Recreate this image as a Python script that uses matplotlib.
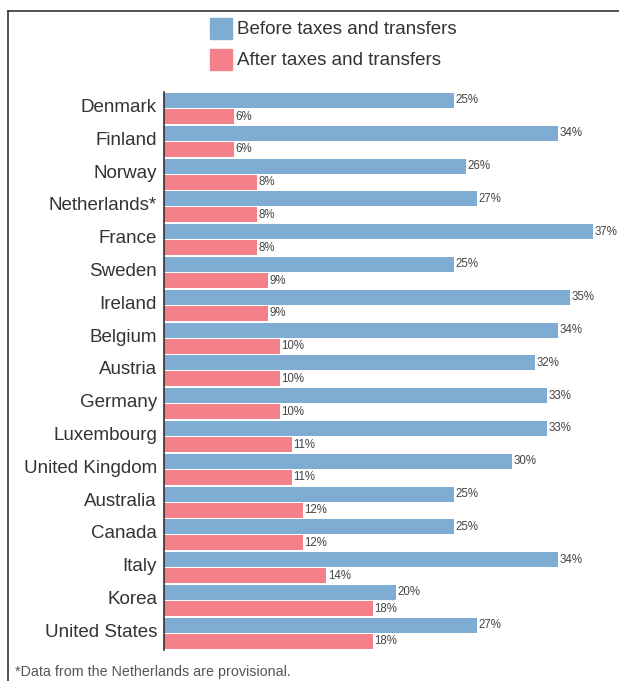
import matplotlib.pyplot as plt
import matplotlib.transforms as mtransforms
import numpy as np
from matplotlib.patches import Rectangle
from matplotlib.lines import Line2D

countries = ["Denmark", "Finland", "Norway", "Netherlands*", "France", "Sweden",
             "Ireland", "Belgium", "Austria", "Germany", "Luxembourg",
             "United Kingdom", "Australia", "Canada", "Italy", "Korea",
             "United States"]
before = [25, 34, 26, 27, 37, 25, 35, 34, 32, 33, 33, 30, 25, 25, 34, 20, 27]
after = [6, 6, 8, 8, 8, 9, 9, 10, 10, 10, 11, 11, 12, 12, 14, 18, 18]

blue = "#7eacd3"
red = "#f4808a"
plt.rcParams['font.family'] = ['Liberation Sans', 'DejaVu Sans']

fig = plt.figure(figsize=(6.19, 6.81), dpi=100)
W, H = 619, 681

# axes placed in pixel terms
left, right = 164, 164 + 40 * 11.6
top, bottom = 92.1, 649.7
ax = fig.add_axes([left / W, 1 - bottom / H, (right - left) / W, (bottom - top) / H])

y = np.arange(len(countries))
h = 0.46
ax.barh(y - 0.245, before, height=h, color=blue)
ax.barh(y + 0.245, after, height=h, color=red)

for i in range(len(countries)):
    ax.text(before[i] + 0.12, y[i] - 0.245, f"{before[i]}%", va='center', ha='left',
            fontsize=8.3, color='#444444')
    ax.text(after[i] + 0.12, y[i] + 0.245, f"{after[i]}%", va='center', ha='left',
            fontsize=8.3, color='#444444')

ax.set_xlim(0, 40)
ax.set_ylim(16.5, -0.5)
ax.set_yticks(y)
ax.set_yticklabels(countries, fontsize=13.5, color='#333333')
ax.tick_params(axis='y', length=0, pad=5)
# nudge the country names up a little, like the original
shift = mtransforms.ScaledTranslation(0, 3 / 100, fig.dpi_scale_trans)
for lab in ax.get_yticklabels():
    lab.set_transform(lab.get_transform() + shift)
ax.set_xticks([])
for s in ['top', 'right', 'bottom']:
    ax.spines[s].set_visible(False)
ax.spines['left'].set_color('#333333')
ax.spines['left'].set_linewidth(1.2)

# legend drawn by hand in figure pixels
def px(x, yy):
    return x / W, 1 - yy / H

for yy0, col, lab in [(18, blue, "Before taxes and transfers"),
                      (49, red, "After taxes and transfers")]:
    x0, y0 = px(210, yy0 + 21)
    fig.patches.append(Rectangle((x0, y0), 22 / W, 21 / H, transform=fig.transFigure,
                                 color=col))
    tx, ty = px(237, yy0 + 11.5)
    fig.text(tx, ty, lab, fontsize=13.5, va='center', ha='left', color='#333333')

# frame lines
fig.add_artist(Line2D([8 / W, 8 / W], [0, 1 - 11 / H], transform=fig.transFigure,
                      color='#333333', lw=1.2))
fig.add_artist(Line2D([8 / W, 1], [1 - 11 / H, 1 - 11 / H], transform=fig.transFigure,
                      color='#333333', lw=1.2))

fx, fy = px(15, 672)
fig.text(fx, fy, "*Data from the Netherlands are provisional.", fontsize=10.3,
         color='#555555', va='center', ha='left')

fig.savefig("out.png", dpi=100)
